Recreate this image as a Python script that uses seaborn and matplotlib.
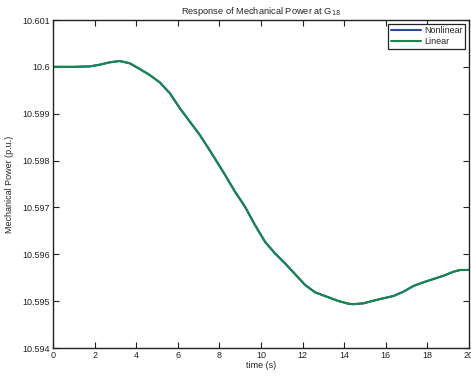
import numpy as np
import pandas as pd
import seaborn as sns
import matplotlib.pyplot as plt

# values
time_s = [0, 1.0, 1.77, 2.25, 2.73, 3.21, 3.69, 4.17, 4.65, 5.13, 5.62, 6.1,
          6.58, 7.06, 7.54, 8.02, 8.27, 8.75, 9.23, 9.71, 10.19, 10.67, 11.15,
          11.63, 12.12, 12.6, 13.16, 13.72, 14.2, 14.44, 14.93, 15.41, 15.89,
          16.37, 16.85, 17.33, 17.81, 18.3, 18.78, 19.26, 19.58, 20.0]
linear = [10.6, 10.6, 10.60001, 10.600046, 10.600097, 10.600125, 10.600076,
          10.599954, 10.599826, 10.59967, 10.599436, 10.599116, 10.59883,
          10.598546, 10.598215, 10.597875, 10.597695, 10.597336, 10.597016,
          10.596625, 10.596269, 10.596021, 10.595808, 10.59558, 10.595345,
          10.595189, 10.595095, 10.595003, 10.594945, 10.594935, 10.594954,
          10.59501, 10.595061, 10.59511, 10.595202, 10.595324, 10.595402,
          10.595473, 10.595543, 10.595629, 10.595665, 10.595665]
nonlinear = linear  # the two responses overlap in the reference

df = pd.DataFrame({
    "time": time_s * 2,
    "power": nonlinear + linear,
    "model": ["Nonlinear"] * len(time_s) + ["Linear"] * len(time_s),
})

sns.set_style("ticks")
plt.rcParams['font.family'] = ['Liberation Sans', 'DejaVu Sans']
plt.rcParams['font.size'] = 6.5

fig = plt.figure(figsize=(4.71, 3.77), dpi=100)
ax = fig.add_axes([53 / 471, 1 - 348 / 377, 416 / 471, 328 / 377])

sns.lineplot(data=df, x="time", y="power", hue="model",
             palette={"Nonlinear": "#2a4b9b", "Linear": "#15884a"},
             linewidth=1.5, ax=ax)

ax.set_xlim(0, 20)
ax.set_ylim(10.594, 10.601)
ax.set_xticks(np.arange(0, 21, 2))
ax.set_yticks([10.594, 10.595, 10.596, 10.597, 10.598, 10.599, 10.6, 10.601])
ax.set_yticklabels(["10.594", "10.595", "10.596", "10.597", "10.598", "10.599",
                    "10.6", "10.601"])
ax.tick_params(direction="in", top=True, right=True, length=4, width=0.8,
               labelsize=6.5, colors="#222222", pad=2)
for s in ax.spines.values():
    s.set_linewidth(1.0)
    s.set_color("#222222")

ax.set_xlabel("time (s)", fontsize=6.5, labelpad=1)
ax.set_ylabel("Mechanical Power (p.u.)", fontsize=6.5, labelpad=6)
ax.set_title("Response of Mechanical Power at G$_{18}$", fontsize=6.7, pad=4)

leg = ax.legend(loc="upper right", fontsize=6.5, handlelength=3.4,
                borderaxespad=0.4, fancybox=False, framealpha=1,
                edgecolor="#222222", borderpad=0.3, labelspacing=0.2,
                handletextpad=0.3)
leg.get_frame().set_linewidth(0.9)

fig.savefig("out.png", dpi=100)
